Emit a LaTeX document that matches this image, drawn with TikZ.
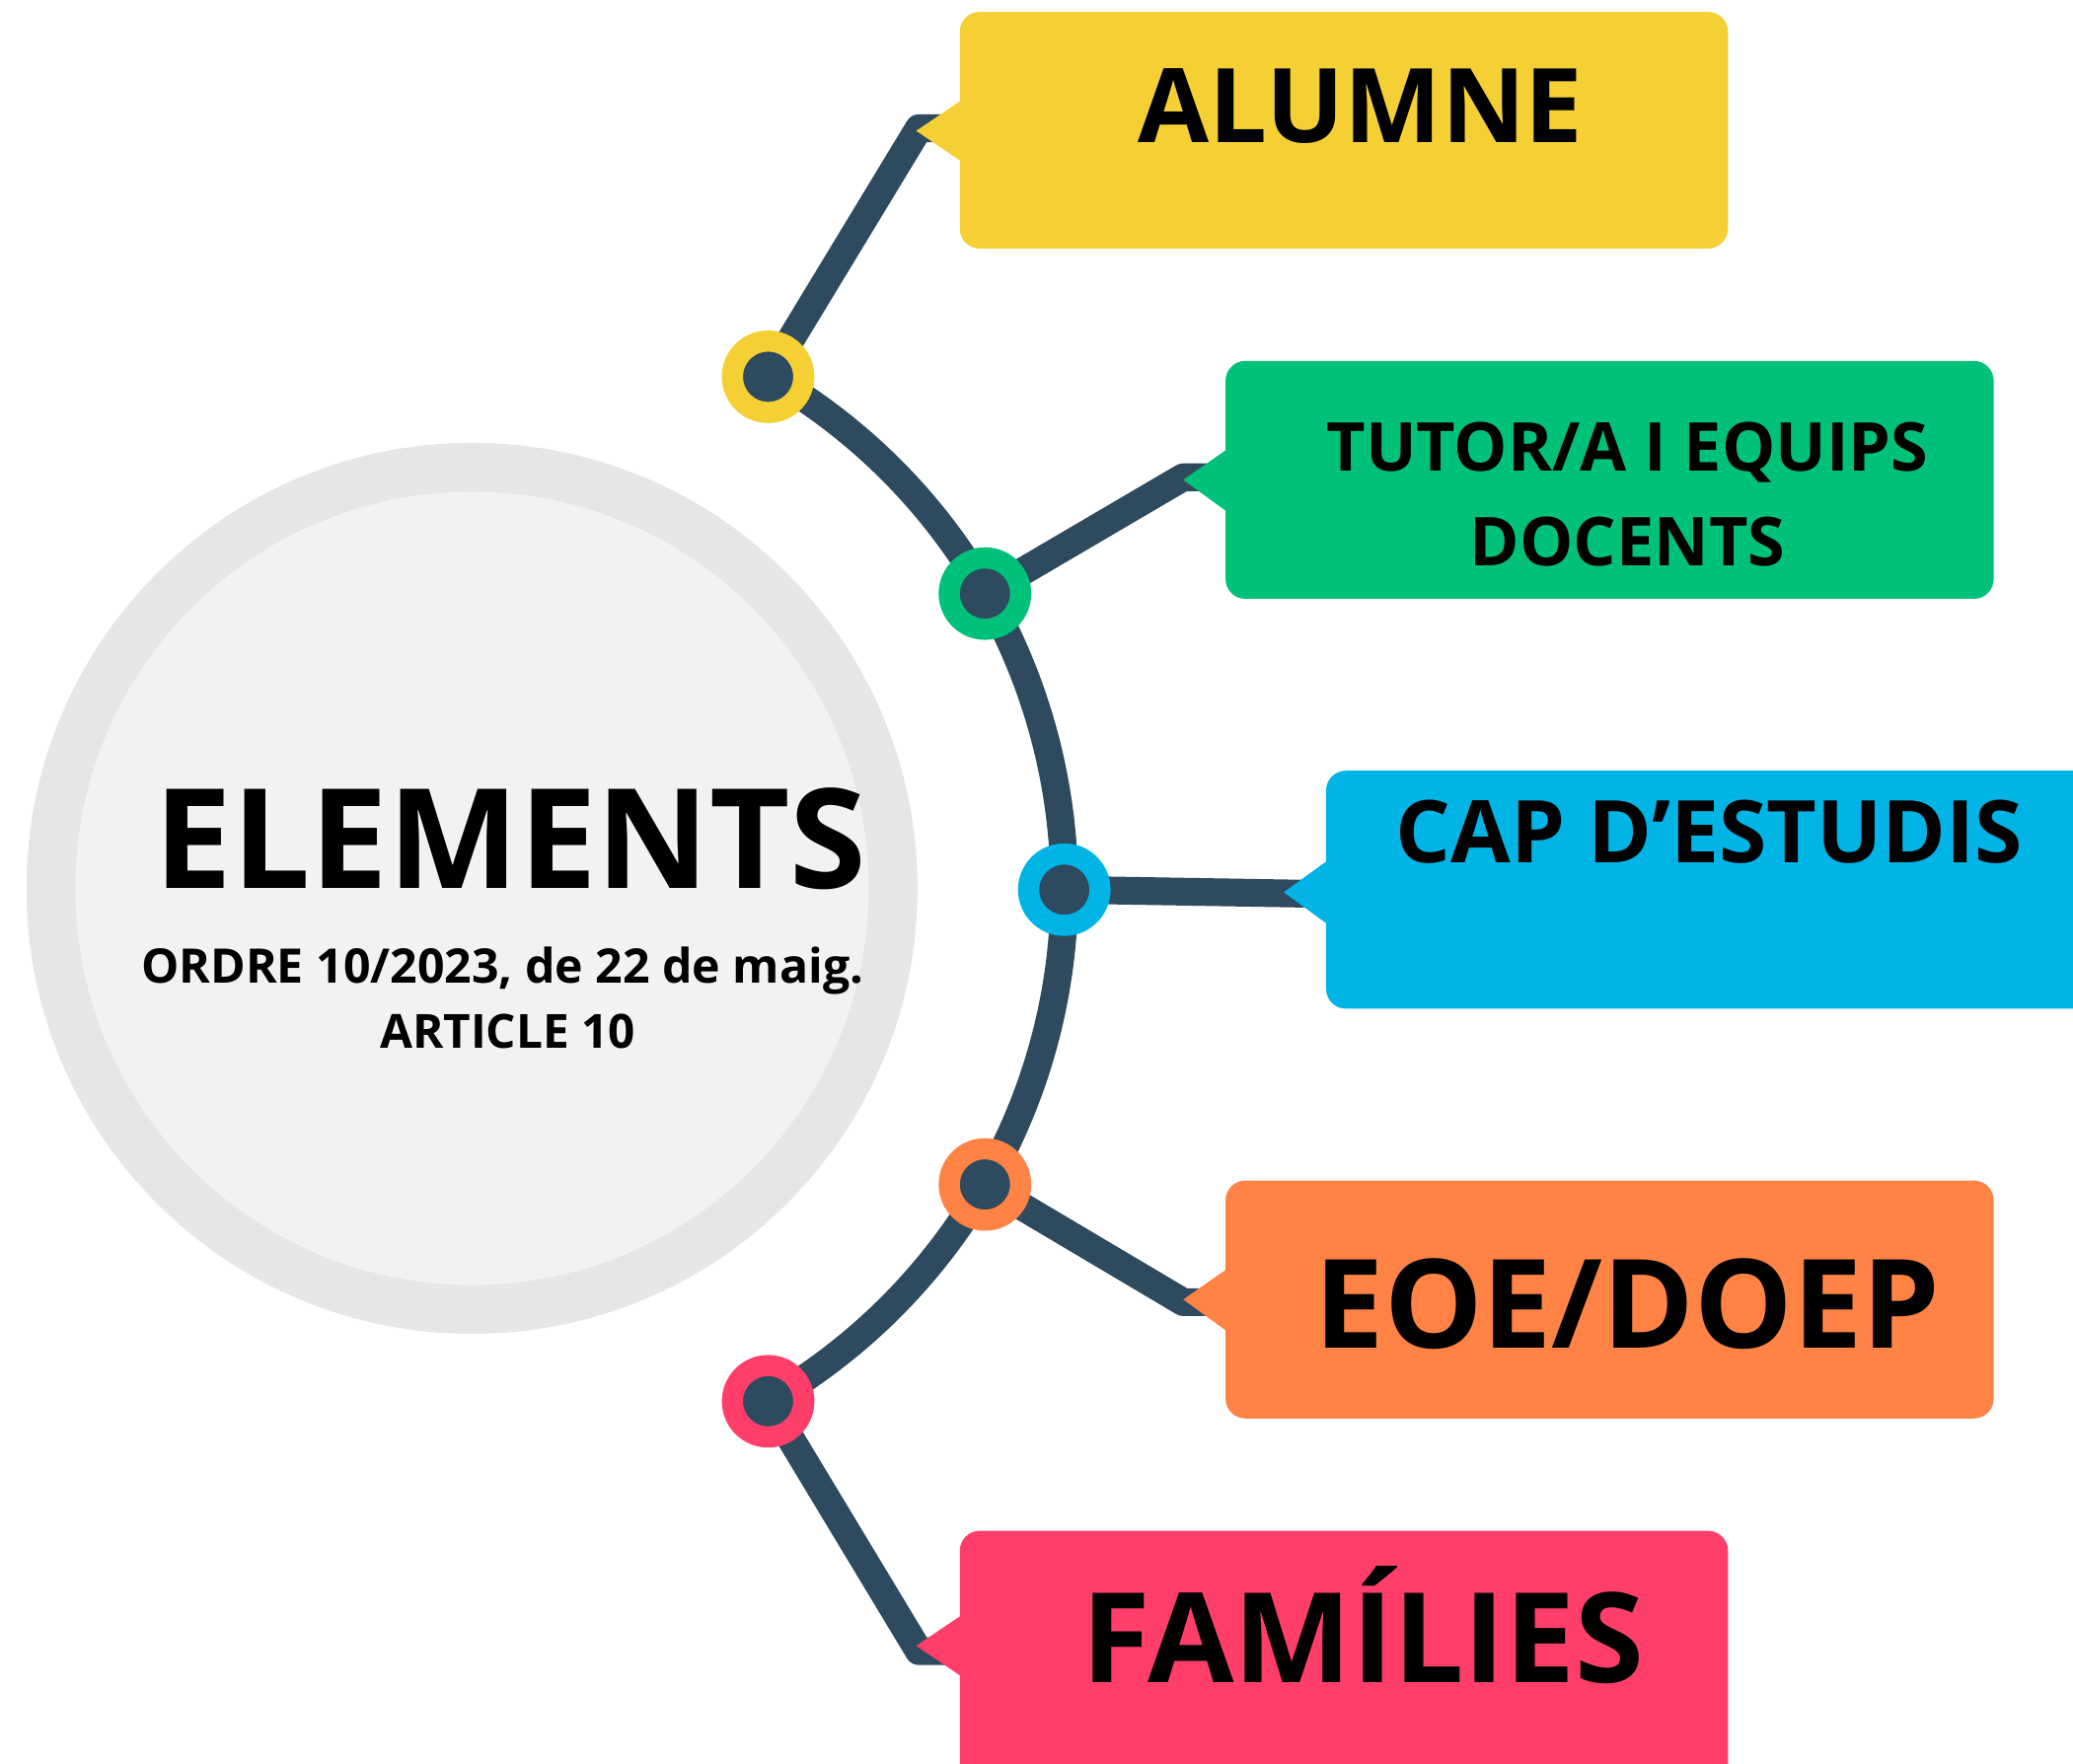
\documentclass[tikz,border=0pt]{standalone}
\usepackage{fontspec}
\setmainfont{Open Sans}
\definecolor{darkline}{HTML}{2E4A5F}
\definecolor{cyel}{HTML}{F4D034}
\definecolor{cgrn}{HTML}{00C17A}
\definecolor{cblu}{HTML}{00B4E6}
\definecolor{corg}{HTML}{FF8345}
\definecolor{cpnk}{HTML}{FF3F6A}
\definecolor{ringgray}{HTML}{E6E6E8}
\definecolor{innergray}{HTML}{F1F2F4}
\tikzset{
  conn/.style={draw=darkline, line width=21pt, line join=round},
  dotnode/.style={circle, minimum size=54pt, inner sep=0pt, line width=16pt, fill=darkline, draw=#1},
  boxfill/.style={fill=#1, rounded corners=15pt},
  lbl/.style={anchor=base, inner sep=0pt, font=\bfseries},
}
\newcommand{\fs}[1]{\fontsize{#1pt}{#1pt}\selectfont}
\begin{document}
\begin{tikzpicture}[x=1pt,y=1pt,yscale=-1]
\clip (0,0) rectangle (1568,1334);
\fill[white] (0,0) rectangle (1568,1334);
% central circle
\fill[ringgray] (357,672) circle (337);
\fill[innergray] (357,672) circle (300);
% positions
\coordinate (p1) at (581,285);
\coordinate (p2) at (745,449);
\coordinate (p3) at (805,673);
\coordinate (p4) at (745,896);
\coordinate (p5) at (581,1060);
\coordinate (e1) at (695,97);
\coordinate (e2) at (895,361);
\coordinate (e3) at (985,676);
\coordinate (e4) at (895,985);
\coordinate (e5) at (695,1249);
% arc
\draw[conn] (357,672) ++(-60:448) arc[start angle=-60, end angle=60, radius=448];
% connectors
\draw[conn] (p1) -- (e1) -- ++(30,0);
\draw[conn] (p2) -- (e2) -- ++(30,0);
\draw[conn, line cap=round] (p3) -- (e3);
\draw[conn] (p4) -- (e4) -- ++(30,0);
\draw[conn] (p5) -- (e5) -- ++(30,0);
% boxes
\fill[boxfill=cyel] (726,9) rectangle (1307,188);
\fill[cyel] (693,99) -- (727,76) -- (727,122) -- cycle;
\fill[boxfill=cgrn] (927,273) rectangle (1508,453);
\fill[cgrn] (895,363) -- (928,340) -- (928,387) -- cycle;
\fill[boxfill=cblu] (1003,583) rectangle (1620,763);
\fill[cblu] (971,675) -- (1004,651) -- (1004,699) -- cycle;
\fill[boxfill=corg] (927,893) rectangle (1508,1073);
\fill[corg] (895,983) -- (928,960) -- (928,1007) -- cycle;
\fill[boxfill=cpnk] (726,1158) rectangle (1307,1360);
\fill[cpnk] (693,1245) -- (727,1222) -- (727,1268) -- cycle;
% dots
\node[dotnode=cyel] (d1) at (p1) {};
\node[dotnode=cgrn] (d2) at (p2) {};
\node[dotnode=cblu] (d3) at (p3) {};
\node[dotnode=corg] (d4) at (p4) {};
\node[dotnode=cpnk] (d5) at (p5) {};
% texts
\node[lbl, font=\bfseries\fs{105}] (title) at (386,672) {ELEMENTS};
\node[lbl, font=\bfseries\fs{36}] (sub1) at (380,744) {ORDRE 10/2023, de 22 de maig.};
\node[lbl, font=\bfseries\fs{35.6}] (sub2) at (384,793) {ARTICLE 10};
\node[lbl, font=\bfseries\fs{78}] (t1) at (1029,108) {ALUMNE};
\node[lbl, font=\bfseries\fs{51}] (t2a) at (1231,356) {TUTOR/A I EQUIPS};
\node[lbl, font=\bfseries\fs{51}] (t2b) at (1231,428) {DOCENTS};
\node[lbl, font=\bfseries\fs{65.5}] (t3) at (1293,653) {CAP D’ESTUDIS};
\node[lbl, font=\bfseries\fs{93.5}] (t4) at (1231,1020) {EOE/DOEP};
\node[lbl, font=\bfseries\fs{94.6}] (t5) at (1031,1273) {FAMÍLIES};
\end{tikzpicture}
\end{document}
